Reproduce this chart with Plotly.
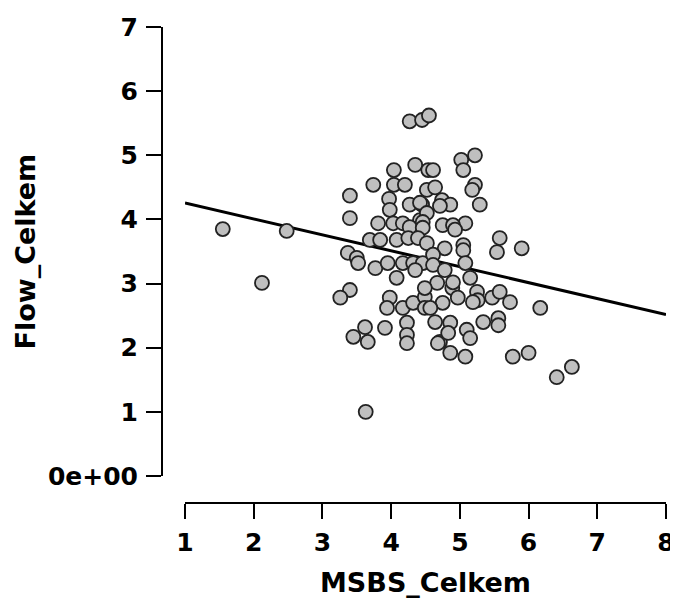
import numpy as np
import plotly.graph_objects as go

# Data
msbs_celkem = [
    1.55, 2.12, 2.48, 3.63,
    4.27, 4.45, 4.55,
    4.35, 4.04, 4.54,
    3.74, 4.04, 4.20,
    3.40, 3.97, 4.27, 4.45, 3.98,
    3.40, 3.81, 4.03, 4.17, 4.42,
    5.22, 5.02, 5.05, 4.61,
    5.22, 5.18, 5.29, 4.52, 4.64, 4.74, 4.86, 4.71, 4.42, 4.52,
    5.08, 4.75, 4.90, 4.46,
    4.27, 4.46,
    3.69, 3.84, 4.08, 4.25, 4.39, 4.52,
    3.37, 3.50, 3.52, 3.77, 3.95, 4.17, 4.32, 4.46,
    4.08, 4.35, 3.40, 3.26, 3.98, 3.94, 4.17, 4.32, 4.49, 4.49,
    3.62, 3.91, 3.45, 3.66, 4.23, 4.23, 4.23,
    4.93, 5.58, 5.54, 5.90, 4.78, 5.05, 5.05, 4.61, 4.61, 4.78, 5.08, 5.15,
    4.67, 4.49, 4.89, 4.90, 4.97, 4.75, 4.57, 5.25, 5.26, 5.47, 5.58, 5.73, 6.17, 5.19,
    4.64, 4.86, 5.34, 5.56, 5.56, 5.10, 5.15, 4.71, 4.83,
    5.77, 6.00, 6.41, 6.63,
    4.68, 4.86, 5.08,
]
flow_celkem = [
    3.85, 3.01, 3.82, 1.00,
    5.53, 5.55, 5.62,
    4.85, 4.77, 4.77,
    4.54, 4.54, 4.54,
    4.37, 4.32, 4.23, 4.23, 4.15,
    4.02, 3.94, 3.94, 3.94, 3.99,
    5.00, 4.93, 4.77, 4.77,
    4.54, 4.46, 4.23, 4.46, 4.50, 4.30, 4.23, 4.21, 4.26, 4.10,
    3.94, 3.91, 3.91, 3.96,
    3.88, 3.87,
    3.68, 3.68, 3.68, 3.71, 3.71, 3.63,
    3.48, 3.40, 3.32, 3.24, 3.32, 3.32, 3.32, 3.32,
    3.09, 3.21, 2.90, 2.78, 2.78, 2.62, 2.62, 2.70, 2.79, 2.62,
    2.32, 2.31, 2.17, 2.09, 2.39, 2.20, 2.07,
    3.84, 3.71, 3.49, 3.55, 3.55, 3.60, 3.52, 3.45, 3.29, 3.21, 3.32, 3.09,
    3.01, 2.93, 2.93, 3.02, 2.78, 2.70, 2.62, 2.87, 2.74, 2.78, 2.87, 2.71, 2.62, 2.71,
    2.40, 2.39, 2.40, 2.46, 2.35, 2.28, 2.15, 2.09, 2.23,
    1.86, 1.92, 1.54, 1.70,
    2.07, 1.92, 1.86,
]

# Regression line
reg_intercept_at_1 = 4.255
reg_slope = -0.248
reg_x_range = [1, 8]

x_ticks = [1, 2, 3, 4, 5, 6, 7, 8]
y_ticks = [0, 1, 2, 3, 4, 5, 6, 7]
y_tick_labels = ["0e+00", "1", "2", "3", "4", "5", "6", "7"]

x_title = "MSBS_Celkem"
y_title = "Flow_Celkem"

# The page body has an 8px default margin; the figure is sized to fit the window.
OFF = 8
W, H = 678 - OFF, 599 - OFF
FONT = "DejaVu Sans"

reg_x = np.array(reg_x_range, dtype=float)
reg_y = reg_intercept_at_1 + reg_slope * (reg_x - 1)

fig = go.Figure()
fig.add_trace(go.Scatter(
    x=reg_x, y=reg_y, mode="lines",
    line=dict(color="black", width=3),
    hoverinfo="skip", showlegend=False, cliponaxis=False,
))
fig.add_trace(go.Scatter(
    x=msbs_celkem, y=flow_celkem, mode="markers",
    marker=dict(size=14, color="#bfbfbf", line=dict(color="#222222", width=1.8)),
    showlegend=False, cliponaxis=False,
))

# positions in window pixels, converted to figure pixels
px_x0, px_x1 = 185 - OFF, 666 - OFF
px_y_top, px_y_bot = 27 - OFF, 476 - OFF
yaxis_px = 162 - OFF
xaxis_py = 503 - OFF
xtitle_py = 582 - OFF
ytitle_px = 25 - OFF

tick_font = dict(family=FONT, size=25, color="black", weight="bold")
title_font = dict(family=FONT, size=27, color="black", weight="bold")

fig.update_layout(
    width=W, height=H,
    margin=dict(l=0, r=0, t=0, b=0),
    paper_bgcolor="white", plot_bgcolor="white",
    font=dict(family=FONT, color="black"),
    xaxis=dict(
        domain=[px_x0 / W, px_x1 / W],
        range=[1, 8],
        anchor="free", position=1 - xaxis_py / H,
        tickvals=x_ticks,
        ticks="outside", ticklen=15, tickwidth=2, tickcolor="black",
        showline=True, linewidth=2, linecolor="black",
        showgrid=False, zeroline=False,
        tickfont=tick_font,
        ticklabelstandoff=2,
        ticklabeloverflow="allow",
        automargin=False,
    ),
    yaxis=dict(
        domain=[1 - px_y_bot / H, 1 - px_y_top / H],
        range=[0, 7],
        anchor="free", position=yaxis_px / W,
        tickvals=y_ticks, ticktext=y_tick_labels,
        ticks="outside", ticklen=15, tickwidth=2, tickcolor="black",
        showline=True, linewidth=2, linecolor="black",
        showgrid=False, zeroline=False,
        tickfont=tick_font,
        ticklabelstandoff=3,
        ticklabeloverflow="allow",
        automargin=False,
    ),
    annotations=[
        dict(text=x_title, xref="paper", yref="paper",
             x=(px_x0 + px_x1) / 2 / W, y=1 - xtitle_py / H,
             xanchor="center", yanchor="middle", showarrow=False,
             font=title_font),
        dict(text=y_title, xref="paper", yref="paper",
             x=ytitle_px / W, y=1 - (px_y_top + px_y_bot) / 2 / H,
             xanchor="center", yanchor="middle", showarrow=False, textangle=-90,
             font=title_font),
    ],
)

fig.write_html("out.html")
